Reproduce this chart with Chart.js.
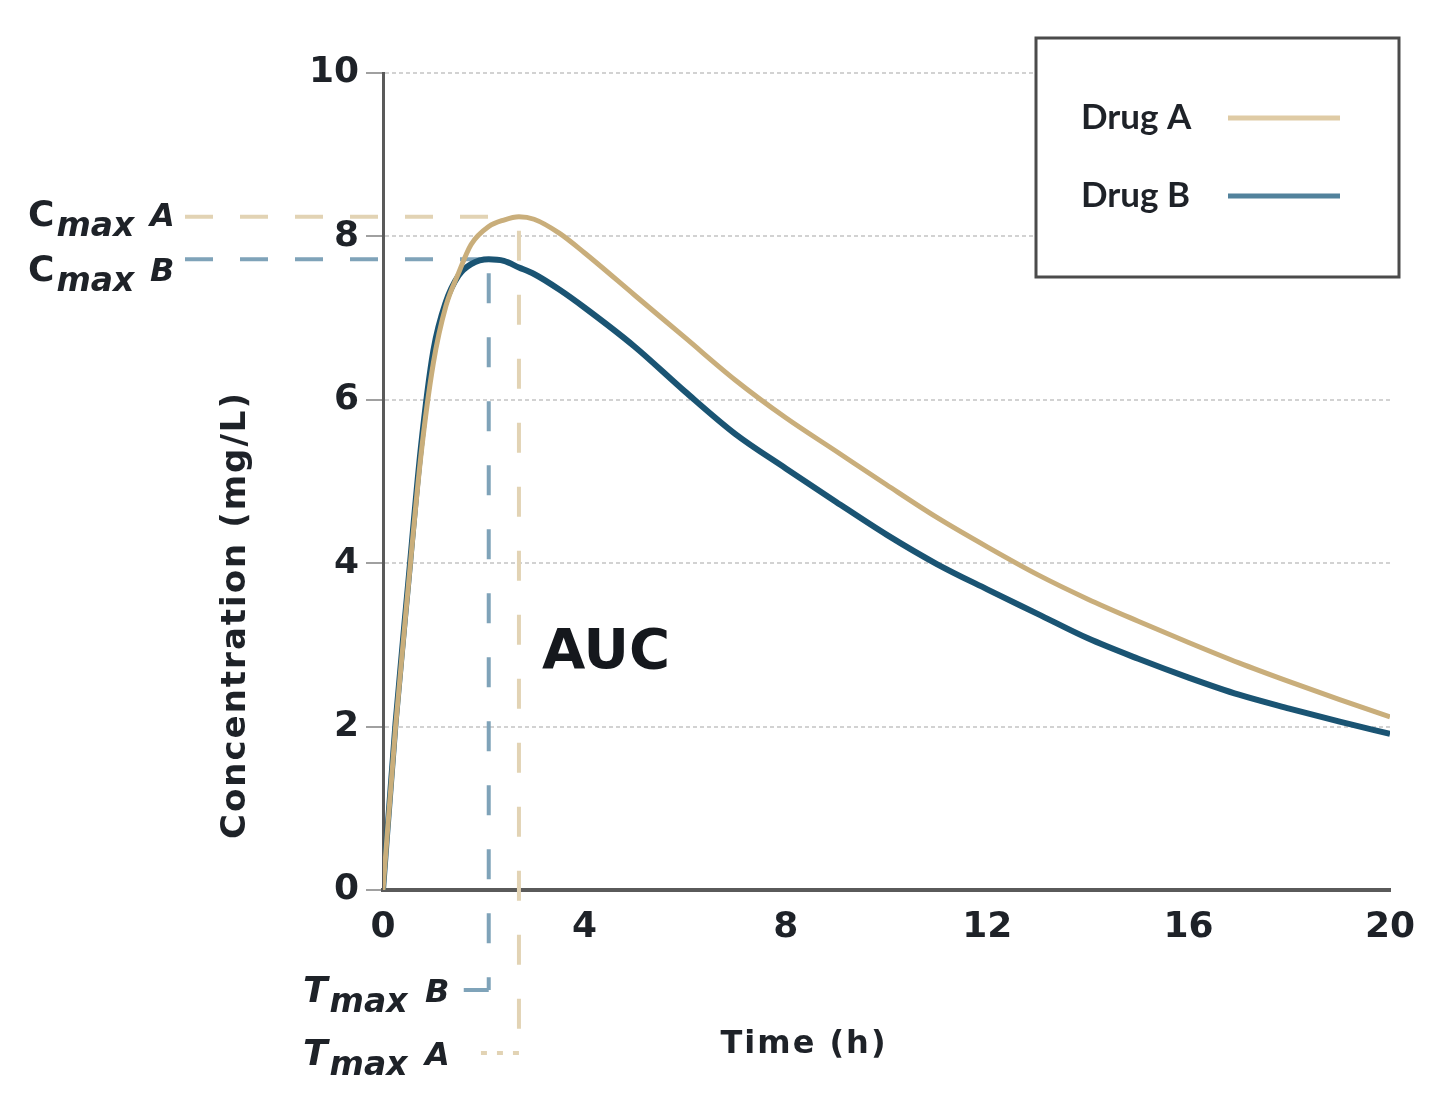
<!DOCTYPE html>
<html>
<head>
<meta charset="utf-8">
<title>Concentration vs time</title>
<script src="https://cdn.jsdelivr.net/npm/chart.js@4.4.1/dist/chart.umd.min.js"></script>
<style>
  html, body { margin: 0; padding: 0; background: #fff; }
  canvas { display: block; }
</style>
</head>
<body>
<canvas id="pkChart" width="1440" height="1111"></canvas>
<script>
// sampling times (h)
const timePoints = [0, 0.25, 0.5, 0.75, 1, 1.25, 1.5, 1.75, 2.1, 2.4, 2.7, 3, 3.5, 4, 5, 6, 7, 8, 9, 10, 11, 12, 13, 14, 15, 16, 17, 18, 19, 20];
// concentrations (mg/L)
const drugA = [0, 2.0, 3.7, 5.3, 6.45, 7.15, 7.55, 7.9, 8.12, 8.2, 8.24, 8.21, 8.04, 7.8, 7.28, 6.76, 6.24, 5.78, 5.37, 4.96, 4.56, 4.2, 3.86, 3.56, 3.29, 3.03, 2.78, 2.55, 2.33, 2.12];
const drugB = [0, 2.05, 3.75, 5.4, 6.6, 7.2, 7.52, 7.66, 7.72, 7.7, 7.62, 7.54, 7.35, 7.13, 6.65, 6.1, 5.58, 5.16, 4.75, 4.35, 3.99, 3.68, 3.38, 3.08, 2.83, 2.6, 2.39, 2.22, 2.06, 1.91];

const seriesNames = ['Drug A', 'Drug B'];
const xTicks = [0, 4, 8, 12, 16, 20];
const yTicks = [0, 2, 4, 6, 8, 10];
const xTitle = 'Time (h)';
const yTitle = 'Concentration (mg/L)';

const lineColors = ['#c9ae7b', '#1a5473'];
const legendColors = ['#dfcba5', '#52829c'];
const dashColors = ['#e2d3b4', '#7fa3b9'];
const textColor = '#1e2228';

function toPoints(values) {
    return timePoints.map((t, i) => ({ x: t, y: values[i] }));
}

// Cmax / Tmax guide lines and their labels
const peakMarkers = {
    id: 'peakMarkers',
    beforeDatasetsDraw(chart) {
        const { ctx, scales: { x, y } } = chart;
        const leftEnd = 185;
        const hookY = [1053, 990];   // A, B label rows under the axis
        chart.data.datasets.forEach((ds, i) => {
            const vals = ds.data.map(p => p.y);
            const cmax = Math.max(...vals);
            const tmax = ds.data[vals.indexOf(cmax)].x;
            const px = x.getPixelForValue(tmax);
            const py = y.getPixelForValue(cmax);

            ctx.save();
            ctx.strokeStyle = dashColors[i];
            ctx.lineWidth = 4;
            ctx.setLineDash([28, 27]);
            ctx.beginPath();
            ctx.moveTo(leftEnd, py);
            ctx.lineTo(px - 8, py);
            ctx.stroke();

            ctx.setLineDash([30, 34]);
            ctx.beginPath();
            ctx.moveTo(px, py + 14);
            ctx.lineTo(px, hookY[i]);
            ctx.stroke();

            ctx.setLineDash(i === 0 ? [6, 10] : []);
            ctx.beginPath();
            ctx.moveTo(px, hookY[i]);
            ctx.lineTo(px - (i === 0 ? 46 : 25), hookY[i]);
            ctx.stroke();
            ctx.restore();

            // labels
            const tag = ds.label.slice(-1);
            const cBase = py + (i === 0 ? 9 : 22);
            drawSubLabel(ctx, 'C', 'max', tag, 28, cBase, false);
            drawSubLabel(ctx, 'T', 'max', tag, 303, hookY[i] + 12, true);
        });
    },
    afterDatasetsDraw(chart) {
        const { ctx } = chart;
        ctx.save();
        ctx.fillStyle = '#15181d';
        ctx.font = 'bold 56px "DejaVu Sans"';
        ctx.textBaseline = 'alphabetic';
        ctx.fillText('AUC', 542, 668);

        // axis titles (placed off-centre like the original)
        ctx.fillStyle = textColor;
        ctx.letterSpacing = '2px';
        ctx.textAlign = 'center';
        ctx.textBaseline = 'middle';
        ctx.font = 'bold 32px "DejaVu Sans"';
        ctx.fillText(xTitle, 804, 1045);
        ctx.translate(236, 615);
        ctx.rotate(-Math.PI / 2);
        ctx.font = 'bold 34px "DejaVu Sans"';
        ctx.fillText(yTitle, 0, 0);
        ctx.restore();
    }
};

function drawSubLabel(ctx, big, sub, tag, x0, base, italicBig) {
    ctx.save();
    ctx.fillStyle = textColor;
    ctx.textBaseline = 'alphabetic';
    ctx.font = (italicBig ? 'italic ' : '') + 'bold 36px "DejaVu Sans"';
    ctx.fillText(big, x0, base);
    let cx = x0 + ctx.measureText(big).width + 2;
    ctx.font = 'italic bold 33px "DejaVu Sans"';
    ctx.fillText(sub, cx, base + 10);
    ctx.font = 'italic bold 32px "DejaVu Sans"';
    ctx.fillText(tag, x0 + 122, base);
    ctx.restore();
}

// boxed legend in the top right corner
const boxLegend = {
    id: 'boxLegend',
    afterDraw(chart) {
        const { ctx } = chart;
        ctx.save();
        ctx.fillStyle = '#fff';
        ctx.fillRect(1036, 38, 363, 239);
        ctx.strokeStyle = '#4b4b4b';
        ctx.lineWidth = 3;
        ctx.strokeRect(1036, 38, 363, 239);
        chart.data.datasets.forEach((ds, i) => {
            const ly = 118 + i * 78;
            ctx.fillStyle = textColor;
            ctx.font = 'bold 35px Lato';
            ctx.textBaseline = 'middle';
            ctx.fillText(ds.label, 1081, ly);
            ctx.strokeStyle = legendColors[i];
            ctx.lineWidth = 5;
            ctx.beginPath();
            ctx.moveTo(1228, ly);
            ctx.lineTo(1340, ly);
            ctx.stroke();
        });
        ctx.restore();
    }
};

const ctx = document.getElementById('pkChart').getContext('2d');

new Chart(ctx, {
    type: 'line',
    data: {
        datasets: [
            {
                label: seriesNames[0],
                data: toPoints(drugA),
                borderColor: lineColors[0],
                borderWidth: 5,
                pointRadius: 0,
                cubicInterpolationMode: 'monotone',
                fill: false
            },
            {
                label: seriesNames[1],
                data: toPoints(drugB),
                borderColor: lineColors[1],
                borderWidth: 6,
                pointRadius: 0,
                cubicInterpolationMode: 'monotone',
                fill: false
            }
        ]
    },
    options: {
        responsive: false,
        animation: false,
        layout: {
            padding: { left: 215, right: 50, top: 73, bottom: 40 }
        },
        plugins: {
            legend: { display: false },
            tooltip: { enabled: false }
        },
        scales: {
            x: {
                type: 'linear',
                min: xTicks[0],
                max: xTicks[xTicks.length - 1],
                afterFit(scale) { scale.height = 181; },
                ticks: {
                    stepSize: xTicks[1] - xTicks[0],
                    padding: 16,
                    color: textColor,
                    font: { family: 'DejaVu Sans', size: 36, weight: 'bold' }
                },
                grid: { display: false, drawTicks: false },
                border: { display: true, color: '#5a5a5a', width: 4 }
            },
            y: {
                min: yTicks[0],
                max: yTicks[yTicks.length - 1],
                afterFit(scale) { scale.width = 168; },
                ticks: {
                    stepSize: yTicks[1] - yTicks[0],
                    padding: 7,
                    color: textColor,
                    font: { family: 'DejaVu Sans', size: 36, weight: 'bold' }
                },
                grid: {
                    color: '#d2d2d2',
                    lineWidth: 2,
                    tickLength: 17,
                    tickColor: '#a0a0a0',
                    tickBorderDash: []
                },
                border: { display: true, color: '#5a5a5a', width: 3, dash: [4, 3] }
            }
        }
    },
    plugins: [peakMarkers, boxLegend]
});
</script>
</body>
</html>
